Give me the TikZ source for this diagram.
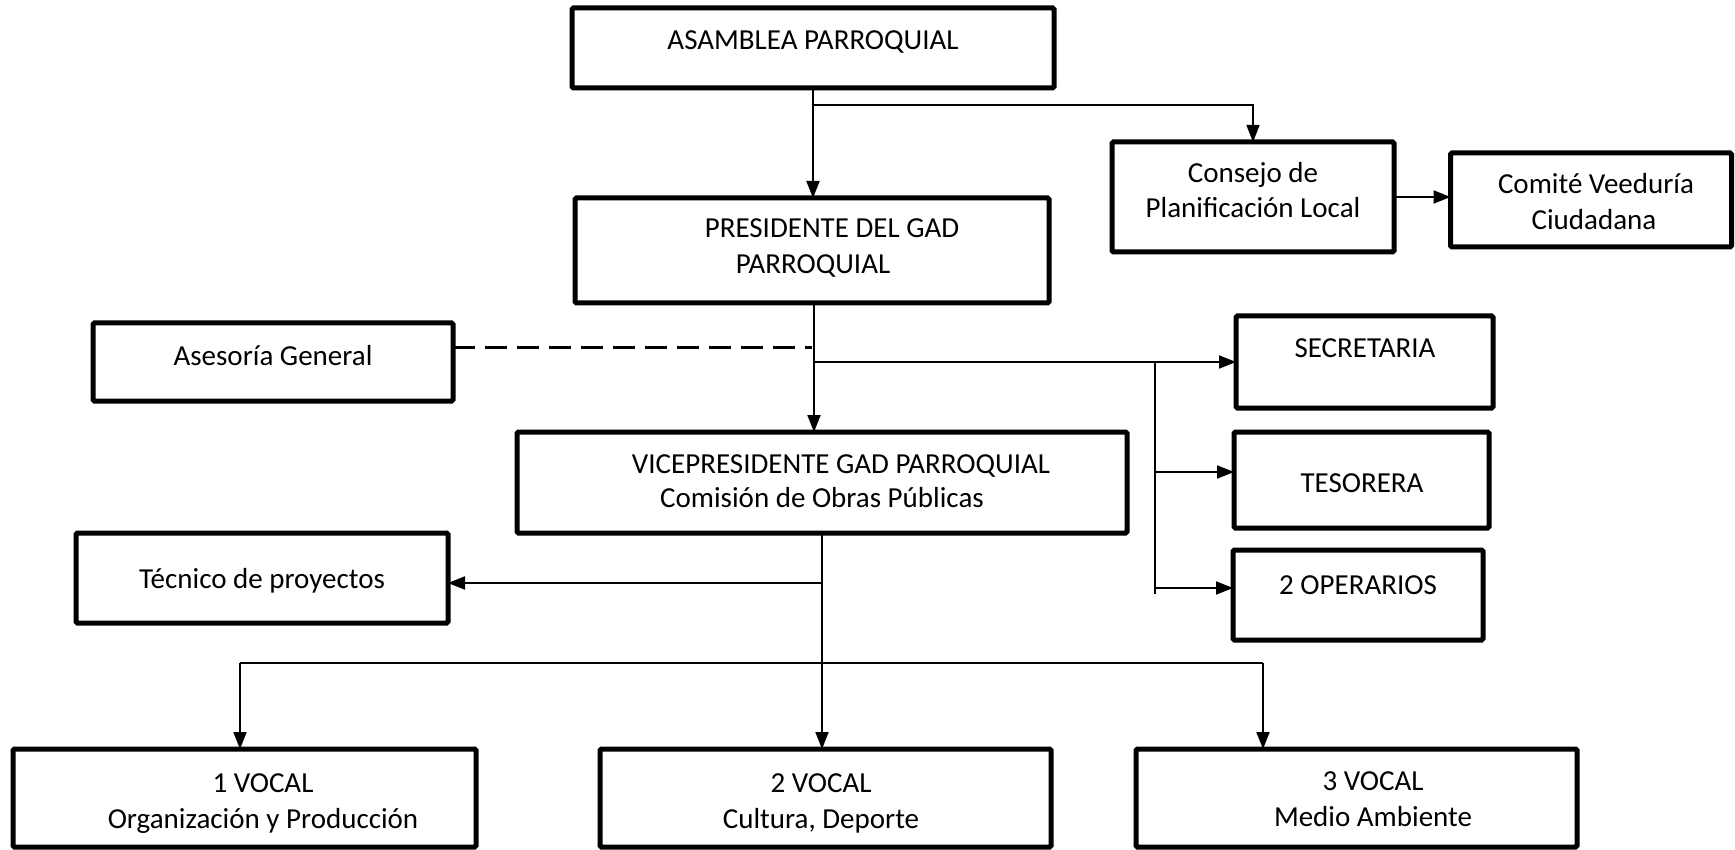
\documentclass[tikz,border=0pt]{standalone}
\usepackage{fontspec}
\setmainfont{Carlito}
\usetikzlibrary{arrows.meta,calc}
\begin{document}
\begin{tikzpicture}[x=1pt,y=-1pt,
  box/.style={draw, line width=5pt, rounded corners=1.5pt, inner sep=0pt, outer sep=0pt},
  txt/.style={inner sep=0pt, anchor=base, font=\fontsize{29}{35}\selectfont},
  conn/.style={line width=2pt},
  arr/.style={line width=2pt, -{Triangle[length=17pt,width=13pt]}},
  dsh/.style={line width=3pt, dash pattern=on 22pt off 10pt}]
\useasboundingbox (0,0) rectangle (1735,850);

% boxes
\node[box, minimum width=482pt, minimum height=80pt] (asam) at (813,48) {};
\node[box, minimum width=474pt, minimum height=105pt] (pres) at (812,250.5) {};
\node[box, minimum width=282pt, minimum height=110pt] (cons) at (1253,197) {};
\node[box, minimum width=281pt, minimum height=94pt] (comi) at (1591,200) {};
\node[box, minimum width=360pt, minimum height=78pt] (ases) at (273,362) {};
\node[box, minimum width=257pt, minimum height=92pt] (secr) at (1364.5,362) {};
\node[box, minimum width=255pt, minimum height=96pt] (teso) at (1361.5,480) {};
\node[box, minimum width=250pt, minimum height=90pt] (oper) at (1358,595) {};
\node[box, minimum width=610pt, minimum height=101pt] (vice) at (822,482.5) {};
\node[box, minimum width=372pt, minimum height=90pt] (tecn) at (262,578) {};
\node[box, minimum width=463pt, minimum height=98pt] (v1) at (244.5,798) {};
\node[box, minimum width=451pt, minimum height=98pt] (v2) at (825.5,798) {};
\node[box, minimum width=441pt, minimum height=98pt] (v3) at (1356.5,798) {};

% texts
\node[txt] (tasam) at (813,50) {ASAMBLEA PARROQUIAL};
\node[txt] (tpres1) at (832,238) {PRESIDENTE DEL GAD};
\node[txt] (tpres2) at (813,274) {PARROQUIAL};
\node[txt] (tcons1) at (1253,183) {Consejo de};
\node[txt] (tcons2) at (1253,218) {Planificación Local};
\node[txt] (tcomi1) at (1596,194) {Comité Veeduría};
\node[txt] (tcomi2) at (1594,230) {Ciudadana};
\node[txt] (tases) at (273,365) {Asesoría General};
\node[txt] (tsecr) at (1365,357) {SECRETARIA};
\node[txt] (tteso) at (1362,492) {TESORERA};
\node[txt] (toper) at (1358,594) {2 OPERARIOS};
\node[txt] (tvice1) at (841,473) {VICEPRESIDENTE GAD PARROQUIAL};
\node[txt] (tvice2) at (822,507) {Comisión de Obras Públicas};
\node[txt] (ttecn) at (262,588) {Técnico de proyectos};
\node[txt] (tv11) at (263,792) {1 VOCAL};
\node[txt] (tv12) at (263,828) {Organización y Producción};
\node[txt] (tv21) at (821,792) {2 VOCAL};
\node[txt] (tv22) at (821,828) {Cultura, Deporte};
\node[txt] (tv31) at (1373,790) {3 VOCAL};
\node[txt] (tv32) at (1373,826) {Medio Ambiente};

% connectors
\draw[arr] (asam.south) -- (asam.south |- pres.north);
\coordinate (br1) at ($(asam.south)+(0,17)$);
\draw[arr, line width=1.5pt] (br1) -| (cons.north);
\draw[arr] (cons.east) -- (cons.east -| comi.west);
\draw[arr] ([xshift=2pt]pres.south) -- ([xshift=2pt]pres.south |- vice.north);
\draw[dsh] ([yshift=15pt]ases.east) -- ([yshift=15pt]ases.east -| pres.south);
\draw[arr] ([xshift=2pt]pres.south |- secr.west) -- (secr.west);
\coordinate (sv1) at (1155,362);
\coordinate (sv2) at (1155,594);
\draw[conn] (sv1) -- (sv2);
\coordinate (ta) at ([yshift=8pt]teso.west);
\draw[arr] (sv1 |- ta) -- (ta);
\coordinate (ob) at ([yshift=7pt]oper.west);
\draw[arr] (sv1 |- ob) -- (ob);
\draw[arr] (vice.south) -- (vice.south |- v2.north);
\coordinate (ts) at ([yshift=-5pt]tecn.east);
\draw[arr] (vice.south |- ts) -- (ts);
\coordinate (hl) at (240,663);
\coordinate (hr) at (1263,663);
\draw[conn] (hl) -- (hr);
\draw[arr] (hl) -- (hl |- v1.north);
\draw[arr] (hr) -- (hr |- v3.north);
\end{tikzpicture}
\end{document}
